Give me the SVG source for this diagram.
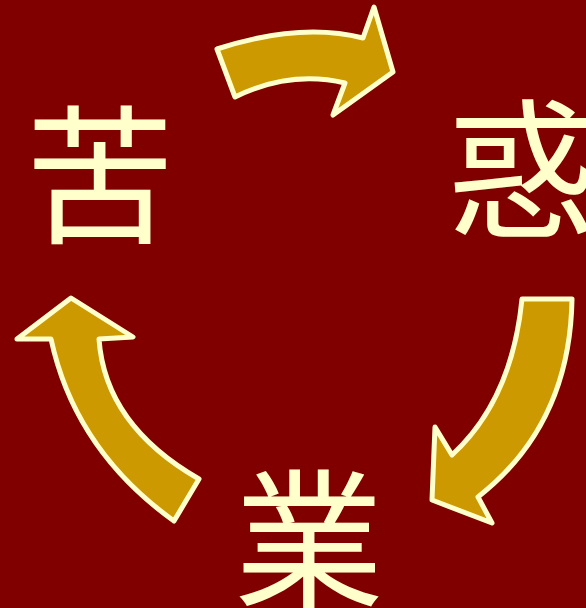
<svg xmlns="http://www.w3.org/2000/svg" width="586" height="608" viewBox="0 0 586 608">
<style>
.arrow{fill:#CC9900;stroke:#FFFFCC;stroke-width:5;stroke-linejoin:round}
.ch{fill:#FFFFCC;font-family:"Noto Sans CJK SC","Noto Sans CJK JP",sans-serif;font-size:150px;text-anchor:middle}
</style>
<rect width="586" height="608" fill="#800000"/>
<g id="connectors">
<path class="arrow" d="M217,49 Q300,22 363,38 L374,7 L393,72 L333,115 L345,83 Q290,70 235,97 Z"/>
<path class="arrow" d="M522,299 L572,299 Q570,425 478,497 L492,523 L432,500 L435,427 L452,455 Q512,400 522,299 Z"/>
<path class="arrow" d="M174,521 Q75,450 51,339 L17,339 L71,298 L133,337 L99,339 Q105,425 199,479 Z"/>
</g>
<g id="node-ku"><text class="ch" x="100" y="232">苦</text></g>
<g id="node-waku"><text class="ch" x="522" y="226">惑</text></g>
<g id="node-gou"><text class="ch" x="309" y="596">業</text></g>
</svg>
